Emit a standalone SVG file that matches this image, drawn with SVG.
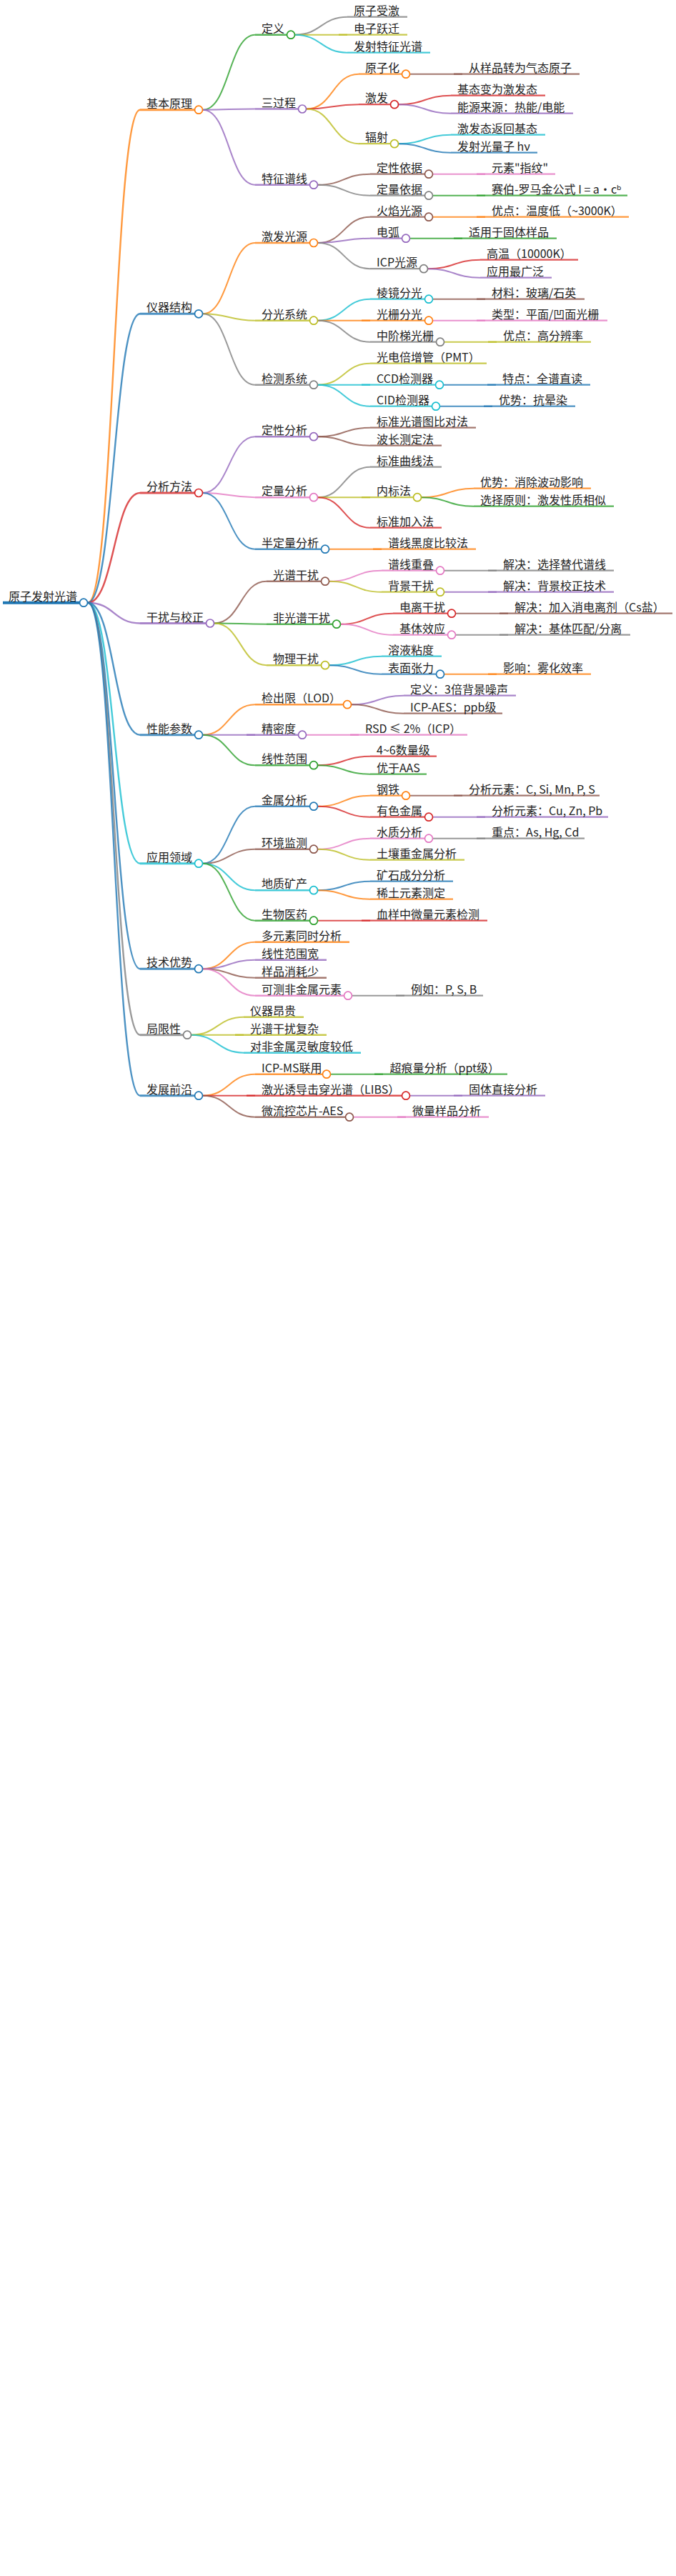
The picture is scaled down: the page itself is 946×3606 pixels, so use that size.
<svg xmlns="http://www.w3.org/2000/svg" width="946" height="3606" viewBox="0 0 946 3606">
<style>
text{font:16px "Noto Sans CJK SC","Noto Sans",sans-serif;fill:#222}
path{fill:none;stroke-opacity:.8}
circle{fill:#fff;stroke-width:1.7}
#connectors path{stroke-width:2}
#connectors .w{stroke-width:2.4}
.d0{stroke-width:4;stroke-opacity:1}
.d1{stroke-width:3}
.d2{stroke-width:2.4}
.d3{stroke-width:2.2}
.b{stroke:#1f77b4}.o{stroke:#ff7f0e}.g{stroke:#2ca02c}.r{stroke:#d62728}.p{stroke:#9467bd}
.n{stroke:#8c564b}.k{stroke:#e377c2}.a{stroke:#7f7f7f}.y{stroke:#bcbd22}.c{stroke:#17becf}
</style>
<g id="connectors">
<path class="w o" d="M123 843.7C159.5 843.7 159.5 153.7 196 153.7"/>
<path class="w b" d="M123 843.7C159.5 843.7 159.5 439.3 196 439.3"/>
<path class="w r" d="M123 843.7C159.5 843.7 159.5 690 196 690"/>
<path class="w p" d="M123 843.7C159.5 843.7 159.5 872.5 196 872.5"/>
<path class="w b" d="M123 843.7C159.5 843.7 159.5 1028.7 196 1028.7"/>
<path class="w c" d="M123 843.7C159.5 843.7 159.5 1208.7 196 1208.7"/>
<path class="w b" d="M123 843.7C159.5 843.7 159.5 1356.2 196 1356.2"/>
<path class="w a" d="M123 843.7C159.5 843.7 159.5 1448.7 196 1448.7"/>
<path class="w b" d="M123 843.7C159.5 843.7 159.5 1533.7 196 1533.7"/>
<path class="g" d="M284 153.7C320.5 153.7 320.5 48.7 357 48.7"/>
<path class="p" d="M284 153.7C320.5 153.7 320.5 152.5 357 152.5"/>
<path class="p" d="M284 153.7C320.5 153.7 320.5 258.7 357 258.7"/>
<path class="a" d="M413 48.7C449.5 48.7 449.5 23.7 486 23.7"/>
<path class="y" d="M413 48.7H486"/>
<path class="c" d="M413 48.7C449.5 48.7 449.5 73.7 486 73.7"/>
<path class="o" d="M429 152.5C465.5 152.5 465.5 103.7 502 103.7"/>
<path class="r" d="M429 152.5C465.5 152.5 465.5 146.2 502 146.2"/>
<path class="y" d="M429 152.5C465.5 152.5 465.5 201.2 502 201.2"/>
<path class="n" d="M574 103.7H647"/>
<path class="r" d="M558 146.2C594.5 146.2 594.5 133.7 631 133.7"/>
<path class="p" d="M558 146.2C594.5 146.2 594.5 158.7 631 158.7"/>
<path class="c" d="M558 201.2C594.5 201.2 594.5 188.7 631 188.7"/>
<path class="b" d="M558 201.2C594.5 201.2 594.5 213.7 631 213.7"/>
<path class="n" d="M445 258.7C481.5 258.7 481.5 243.7 518 243.7"/>
<path class="a" d="M445 258.7C481.5 258.7 481.5 273.7 518 273.7"/>
<path class="k" d="M606 243.7H679"/>
<path class="g" d="M606 273.7H679"/>
<path class="o" d="M284 439.3C320.5 439.3 320.5 340 357 340"/>
<path class="y" d="M284 439.3C320.5 439.3 320.5 448.7 357 448.7"/>
<path class="a" d="M284 439.3C320.5 439.3 320.5 538.7 357 538.7"/>
<path class="n" d="M445 340C481.5 340 481.5 303.7 518 303.7"/>
<path class="p" d="M445 340C481.5 340 481.5 333.7 518 333.7"/>
<path class="a" d="M445 340C481.5 340 481.5 376.2 518 376.2"/>
<path class="o" d="M606 303.7H679"/>
<path class="g" d="M574 333.7H647"/>
<path class="r" d="M599 376.2C635.5 376.2 635.5 363.7 672 363.7"/>
<path class="p" d="M599 376.2C635.5 376.2 635.5 388.7 672 388.7"/>
<path class="c" d="M445 448.7C481.5 448.7 481.5 418.7 518 418.7"/>
<path class="o" d="M445 448.7H518"/>
<path class="a" d="M445 448.7C481.5 448.7 481.5 478.7 518 478.7"/>
<path class="n" d="M606 418.7H679"/>
<path class="k" d="M606 448.7H679"/>
<path class="y" d="M622 478.7H695"/>
<path class="y" d="M445 538.7C481.5 538.7 481.5 508.7 518 508.7"/>
<path class="c" d="M445 538.7H518"/>
<path class="c" d="M445 538.7C481.5 538.7 481.5 568.7 518 568.7"/>
<path class="b" d="M621 538.7H694"/>
<path class="b" d="M616 568.7H689"/>
<path class="p" d="M284 690C320.5 690 320.5 611.2 357 611.2"/>
<path class="k" d="M284 690C320.5 690 320.5 696.2 357 696.2"/>
<path class="b" d="M284 690C320.5 690 320.5 768.7 357 768.7"/>
<path class="n" d="M445 611.2C481.5 611.2 481.5 598.7 518 598.7"/>
<path class="n" d="M445 611.2C481.5 611.2 481.5 623.7 518 623.7"/>
<path class="a" d="M445 696.2C481.5 696.2 481.5 653.7 518 653.7"/>
<path class="y" d="M445 696.2H518"/>
<path class="r" d="M445 696.2C481.5 696.2 481.5 738.7 518 738.7"/>
<path class="o" d="M590 696.2C626.5 696.2 626.5 683.7 663 683.7"/>
<path class="g" d="M590 696.2C626.5 696.2 626.5 708.7 663 708.7"/>
<path class="o" d="M461 768.7H534"/>
<path class="n" d="M300 872.5C336.5 872.5 336.5 813.7 373 813.7"/>
<path class="g" d="M300 872.5C336.5 872.5 336.5 873.7 373 873.7"/>
<path class="y" d="M300 872.5C336.5 872.5 336.5 931.2 373 931.2"/>
<path class="k" d="M461 813.7C497.5 813.7 497.5 798.7 534 798.7"/>
<path class="y" d="M461 813.7C497.5 813.7 497.5 828.7 534 828.7"/>
<path class="a" d="M622 798.7H695"/>
<path class="p" d="M622 828.7H695"/>
<path class="r" d="M477 873.7C513.5 873.7 513.5 858.7 550 858.7"/>
<path class="k" d="M477 873.7C513.5 873.7 513.5 888.7 550 888.7"/>
<path class="n" d="M638 858.7H711"/>
<path class="a" d="M638 888.7H711"/>
<path class="c" d="M461 931.2C497.5 931.2 497.5 918.7 534 918.7"/>
<path class="b" d="M461 931.2C497.5 931.2 497.5 943.7 534 943.7"/>
<path class="o" d="M622 943.7H695"/>
<path class="o" d="M284 1028.7C320.5 1028.7 320.5 986.2 357 986.2"/>
<path class="p" d="M284 1028.7H357"/>
<path class="g" d="M284 1028.7C320.5 1028.7 320.5 1071.2 357 1071.2"/>
<path class="p" d="M492 986.2C528.5 986.2 528.5 973.7 565 973.7"/>
<path class="n" d="M492 986.2C528.5 986.2 528.5 998.7 565 998.7"/>
<path class="k" d="M429 1028.7H502"/>
<path class="r" d="M445 1071.2C481.5 1071.2 481.5 1058.7 518 1058.7"/>
<path class="g" d="M445 1071.2C481.5 1071.2 481.5 1083.7 518 1083.7"/>
<path class="b" d="M284 1208.7C320.5 1208.7 320.5 1128.7 357 1128.7"/>
<path class="n" d="M284 1208.7C320.5 1208.7 320.5 1188.7 357 1188.7"/>
<path class="c" d="M284 1208.7C320.5 1208.7 320.5 1246.2 357 1246.2"/>
<path class="g" d="M284 1208.7C320.5 1208.7 320.5 1288.7 357 1288.7"/>
<path class="o" d="M445 1128.7C481.5 1128.7 481.5 1113.7 518 1113.7"/>
<path class="r" d="M445 1128.7C481.5 1128.7 481.5 1143.7 518 1143.7"/>
<path class="n" d="M574 1113.7H647"/>
<path class="p" d="M606 1143.7H679"/>
<path class="k" d="M445 1188.7C481.5 1188.7 481.5 1173.7 518 1173.7"/>
<path class="y" d="M445 1188.7C481.5 1188.7 481.5 1203.7 518 1203.7"/>
<path class="a" d="M606 1173.7H679"/>
<path class="b" d="M445 1246.2C481.5 1246.2 481.5 1233.7 518 1233.7"/>
<path class="o" d="M445 1246.2C481.5 1246.2 481.5 1258.7 518 1258.7"/>
<path class="r" d="M445 1288.7H518"/>
<path class="o" d="M284 1356.2C320.5 1356.2 320.5 1318.7 357 1318.7"/>
<path class="p" d="M284 1356.2C320.5 1356.2 320.5 1343.7 357 1343.7"/>
<path class="n" d="M284 1356.2C320.5 1356.2 320.5 1368.7 357 1368.7"/>
<path class="k" d="M284 1356.2C320.5 1356.2 320.5 1393.7 357 1393.7"/>
<path class="a" d="M493 1393.7H566"/>
<path class="y" d="M268 1448.7C304.5 1448.7 304.5 1423.7 341 1423.7"/>
<path class="y" d="M268 1448.7H341"/>
<path class="c" d="M268 1448.7C304.5 1448.7 304.5 1473.7 341 1473.7"/>
<path class="o" d="M284 1533.7C320.5 1533.7 320.5 1503.7 357 1503.7"/>
<path class="r" d="M284 1533.7H357"/>
<path class="n" d="M284 1533.7C320.5 1533.7 320.5 1563.7 357 1563.7"/>
<path class="g" d="M463 1503.7H536"/>
<path class="p" d="M574 1533.7H647"/>
<path class="k" d="M495 1563.7H568"/>
</g>
<g id="nodes">
<g id="root"><path class="d0 b" d="M4 843.7H117"/><circle class="b" cx="117" cy="843.7" r="5.5"/><text x="12" y="840.7">原子发射光谱</text></g>
<g id="n1"><path class="d1 o" d="M196 153.7H278"/><circle class="o" cx="278" cy="153.7" r="5.5"/><text x="205" y="150.7">基本原理</text></g>
<g id="n1-1"><path class="d2 g" d="M357 48.7H407"/><circle class="g" cx="407" cy="48.7" r="5.5"/><text x="366" y="45.7">定义</text></g>
<g id="n1-1-1"><path class="d3 a" d="M486 23.7H570"/><text x="495" y="20.7">原子受激</text></g>
<g id="n1-1-2"><path class="d3 y" d="M474 48.7H570"/><text x="495" y="45.7">电子跃迁</text></g>
<g id="n1-1-3"><path class="d3 c" d="M486 73.7H602"/><text x="495" y="70.7">发射特征光谱</text></g>
<g id="n1-2"><path class="d2 p" d="M357 152.5H423"/><circle class="p" cx="423" cy="152.5" r="5.5"/><text x="366" y="149.5">三过程</text></g>
<g id="n1-2-1"><path class="d3 o" d="M502 103.7H568"/><circle class="o" cx="568" cy="103.7" r="5.5"/><text x="511" y="100.7">原子化</text></g>
<g id="n1-2-1-1"><path class="d3 n" d="M635 103.7H811"/><text x="656" y="100.7">从样品转为气态原子</text></g>
<g id="n1-2-2"><path class="d3 r" d="M502 146.2H552"/><circle class="r" cx="552" cy="146.2" r="5.5"/><text x="511" y="143.2">激发</text></g>
<g id="n1-2-2-1"><path class="d3 r" d="M631 133.7H763"/><text x="640" y="130.7">基态变为激发态</text></g>
<g id="n1-2-2-2"><path class="d3 p" d="M631 158.7H802"/><text x="640" y="155.7">能源来源：热能/电能</text></g>
<g id="n1-2-3"><path class="d3 y" d="M502 201.2H552"/><circle class="y" cx="552" cy="201.2" r="5.5"/><text x="511" y="198.2">辐射</text></g>
<g id="n1-2-3-1"><path class="d3 c" d="M631 188.7H763"/><text x="640" y="185.7">激发态返回基态</text></g>
<g id="n1-2-3-2"><path class="d3 b" d="M631 213.7H752"/><text x="640" y="210.7">发射光量子 hν</text></g>
<g id="n1-3"><path class="d2 p" d="M357 258.7H439"/><circle class="p" cx="439" cy="258.7" r="5.5"/><text x="366" y="255.7">特征谱线</text></g>
<g id="n1-3-1"><path class="d3 n" d="M518 243.7H600"/><circle class="n" cx="600" cy="243.7" r="5.5"/><text x="527" y="240.7">定性依据</text></g>
<g id="n1-3-1-1"><path class="d3 k" d="M667 243.7H777"/><text x="688" y="240.7">元素"指纹"</text></g>
<g id="n1-3-2"><path class="d3 a" d="M518 273.7H600"/><circle class="a" cx="600" cy="273.7" r="5.5"/><text x="527" y="270.7">定量依据</text></g>
<g id="n1-3-2-1"><path class="d3 g" d="M667 273.7H878"/><text x="688" y="270.7">赛伯-罗马金公式 I = a·cᵇ</text></g>
<g id="n2"><path class="d1 b" d="M196 439.3H278"/><circle class="b" cx="278" cy="439.3" r="5.5"/><text x="205" y="436.3">仪器结构</text></g>
<g id="n2-1"><path class="d2 o" d="M357 340H439"/><circle class="o" cx="439" cy="340" r="5.5"/><text x="366" y="337">激发光源</text></g>
<g id="n2-1-1"><path class="d3 n" d="M518 303.7H600"/><circle class="n" cx="600" cy="303.7" r="5.5"/><text x="527" y="300.7">火焰光源</text></g>
<g id="n2-1-1-1"><path class="d3 o" d="M667 303.7H880"/><text x="688" y="300.7">优点：温度低（~3000K）</text></g>
<g id="n2-1-2"><path class="d3 p" d="M518 333.7H568"/><circle class="p" cx="568" cy="333.7" r="5.5"/><text x="527" y="330.7">电弧</text></g>
<g id="n2-1-2-1"><path class="d3 g" d="M635 333.7H779"/><text x="656" y="330.7">适用于固体样品</text></g>
<g id="n2-1-3"><path class="d3 a" d="M518 376.2H593"/><circle class="a" cx="593" cy="376.2" r="5.5"/><text x="527" y="373.2">ICP光源</text></g>
<g id="n2-1-3-1"><path class="d3 r" d="M672 363.7H809"/><text x="681" y="360.7">高温（10000K）</text></g>
<g id="n2-1-3-2"><path class="d3 p" d="M672 388.7H772"/><text x="681" y="385.7">应用最广泛</text></g>
<g id="n2-2"><path class="d2 y" d="M357 448.7H439"/><circle class="y" cx="439" cy="448.7" r="5.5"/><text x="366" y="445.7">分光系统</text></g>
<g id="n2-2-1"><path class="d3 c" d="M518 418.7H600"/><circle class="c" cx="600" cy="418.7" r="5.5"/><text x="527" y="415.7">棱镜分光</text></g>
<g id="n2-2-1-1"><path class="d3 n" d="M667 418.7H818"/><text x="688" y="415.7">材料：玻璃/石英</text></g>
<g id="n2-2-2"><path class="d3 o" d="M506 448.7H600"/><circle class="o" cx="600" cy="448.7" r="5.5"/><text x="527" y="445.7">光栅分光</text></g>
<g id="n2-2-2-1"><path class="d3 k" d="M667 448.7H850"/><text x="688" y="445.7">类型：平面/凹面光栅</text></g>
<g id="n2-2-3"><path class="d3 a" d="M518 478.7H616"/><circle class="a" cx="616" cy="478.7" r="5.5"/><text x="527" y="475.7">中阶梯光栅</text></g>
<g id="n2-2-3-1"><path class="d3 y" d="M683 478.7H827"/><text x="704" y="475.7">优点：高分辨率</text></g>
<g id="n2-3"><path class="d2 a" d="M357 538.7H439"/><circle class="a" cx="439" cy="538.7" r="5.5"/><text x="366" y="535.7">检测系统</text></g>
<g id="n2-3-1"><path class="d3 y" d="M518 508.7H681"/><text x="527" y="505.7">光电倍增管（PMT）</text></g>
<g id="n2-3-2"><path class="d3 c" d="M506 538.7H615"/><circle class="c" cx="615" cy="538.7" r="5.5"/><text x="527" y="535.7">CCD检测器</text></g>
<g id="n2-3-2-1"><path class="d3 b" d="M682 538.7H826"/><text x="703" y="535.7">特点：全谱直读</text></g>
<g id="n2-3-3"><path class="d3 c" d="M518 568.7H610"/><circle class="c" cx="610" cy="568.7" r="5.5"/><text x="527" y="565.7">CID检测器</text></g>
<g id="n2-3-3-1"><path class="d3 b" d="M677 568.7H805"/><text x="698" y="565.7">优势：抗晕染</text></g>
<g id="n3"><path class="d1 r" d="M196 690H278"/><circle class="r" cx="278" cy="690" r="5.5"/><text x="205" y="687">分析方法</text></g>
<g id="n3-1"><path class="d2 p" d="M357 611.2H439"/><circle class="p" cx="439" cy="611.2" r="5.5"/><text x="366" y="608.2">定性分析</text></g>
<g id="n3-1-1"><path class="d3 n" d="M518 598.7H666"/><text x="527" y="595.7">标准光谱图比对法</text></g>
<g id="n3-1-2"><path class="d3 n" d="M518 623.7H618"/><text x="527" y="620.7">波长测定法</text></g>
<g id="n3-2"><path class="d2 k" d="M357 696.2H439"/><circle class="k" cx="439" cy="696.2" r="5.5"/><text x="366" y="693.2">定量分析</text></g>
<g id="n3-2-1"><path class="d3 a" d="M518 653.7H618"/><text x="527" y="650.7">标准曲线法</text></g>
<g id="n3-2-2"><path class="d3 y" d="M506 696.2H584"/><circle class="y" cx="584" cy="696.2" r="5.5"/><text x="527" y="693.2">内标法</text></g>
<g id="n3-2-2-1"><path class="d3 o" d="M663 683.7H827"/><text x="672" y="680.7">优势：消除波动影响</text></g>
<g id="n3-2-2-2"><path class="d3 g" d="M663 708.7H859"/><text x="672" y="705.7">选择原则：激发性质相似</text></g>
<g id="n3-2-3"><path class="d3 r" d="M518 738.7H618"/><text x="527" y="735.7">标准加入法</text></g>
<g id="n3-3"><path class="d2 b" d="M357 768.7H455"/><circle class="b" cx="455" cy="768.7" r="5.5"/><text x="366" y="765.7">半定量分析</text></g>
<g id="n3-3-1"><path class="d3 o" d="M522 768.7H666"/><text x="543" y="765.7">谱线黑度比较法</text></g>
<g id="n4"><path class="d1 p" d="M196 872.5H294"/><circle class="p" cx="294" cy="872.5" r="5.5"/><text x="205" y="869.5">干扰与校正</text></g>
<g id="n4-1"><path class="d2 n" d="M373 813.7H455"/><circle class="n" cx="455" cy="813.7" r="5.5"/><text x="382" y="810.7">光谱干扰</text></g>
<g id="n4-1-1"><path class="d3 k" d="M534 798.7H616"/><circle class="k" cx="616" cy="798.7" r="5.5"/><text x="543" y="795.7">谱线重叠</text></g>
<g id="n4-1-1-1"><path class="d3 a" d="M683 798.7H859"/><text x="704" y="795.7">解决：选择替代谱线</text></g>
<g id="n4-1-2"><path class="d3 y" d="M534 828.7H616"/><circle class="y" cx="616" cy="828.7" r="5.5"/><text x="543" y="825.7">背景干扰</text></g>
<g id="n4-1-2-1"><path class="d3 p" d="M683 828.7H859"/><text x="704" y="825.7">解决：背景校正技术</text></g>
<g id="n4-2"><path class="d2 g" d="M373 873.7H471"/><circle class="g" cx="471" cy="873.7" r="5.5"/><text x="382" y="870.7">非光谱干扰</text></g>
<g id="n4-2-1"><path class="d3 r" d="M550 858.7H632"/><circle class="r" cx="632" cy="858.7" r="5.5"/><text x="559" y="855.7">电离干扰</text></g>
<g id="n4-2-1-1"><path class="d3 n" d="M699 858.7H941"/><text x="720" y="855.7">解决：加入消电离剂（Cs盐）</text></g>
<g id="n4-2-2"><path class="d3 k" d="M550 888.7H632"/><circle class="k" cx="632" cy="888.7" r="5.5"/><text x="559" y="885.7">基体效应</text></g>
<g id="n4-2-2-1"><path class="d3 a" d="M699 888.7H882"/><text x="720" y="885.7">解决：基体匹配/分离</text></g>
<g id="n4-3"><path class="d2 y" d="M373 931.2H455"/><circle class="y" cx="455" cy="931.2" r="5.5"/><text x="382" y="928.2">物理干扰</text></g>
<g id="n4-3-1"><path class="d3 c" d="M534 918.7H618"/><text x="543" y="915.7">溶液粘度</text></g>
<g id="n4-3-2"><path class="d3 b" d="M534 943.7H616"/><circle class="b" cx="616" cy="943.7" r="5.5"/><text x="543" y="940.7">表面张力</text></g>
<g id="n4-3-2-1"><path class="d3 o" d="M683 943.7H827"/><text x="704" y="940.7">影响：雾化效率</text></g>
<g id="n5"><path class="d1 b" d="M196 1028.7H278"/><circle class="b" cx="278" cy="1028.7" r="5.5"/><text x="205" y="1025.7">性能参数</text></g>
<g id="n5-1"><path class="d2 o" d="M357 986.2H486"/><circle class="o" cx="486" cy="986.2" r="5.5"/><text x="366" y="983.2">检出限（LOD）</text></g>
<g id="n5-1-1"><path class="d3 p" d="M565 973.7H722"/><text x="574" y="970.7">定义：3倍背景噪声</text></g>
<g id="n5-1-2"><path class="d3 n" d="M565 998.7H703"/><text x="574" y="995.7">ICP-AES：ppb级</text></g>
<g id="n5-2"><path class="d2 p" d="M345 1028.7H423"/><circle class="p" cx="423" cy="1028.7" r="5.5"/><text x="366" y="1025.7">精密度</text></g>
<g id="n5-2-1"><path class="d3 k" d="M490 1028.7H654"/><text x="511" y="1025.7">RSD ≤ 2%（ICP）</text></g>
<g id="n5-3"><path class="d2 g" d="M357 1071.2H439"/><circle class="g" cx="439" cy="1071.2" r="5.5"/><text x="366" y="1068.2">线性范围</text></g>
<g id="n5-3-1"><path class="d3 r" d="M518 1058.7H611"/><text x="527" y="1055.7">4~6数量级</text></g>
<g id="n5-3-2"><path class="d3 g" d="M518 1083.7H597"/><text x="527" y="1080.7">优于AAS</text></g>
<g id="n6"><path class="d1 c" d="M196 1208.7H278"/><circle class="c" cx="278" cy="1208.7" r="5.5"/><text x="205" y="1205.7">应用领域</text></g>
<g id="n6-1"><path class="d2 b" d="M357 1128.7H439"/><circle class="b" cx="439" cy="1128.7" r="5.5"/><text x="366" y="1125.7">金属分析</text></g>
<g id="n6-1-1"><path class="d3 o" d="M518 1113.7H568"/><circle class="o" cx="568" cy="1113.7" r="5.5"/><text x="527" y="1110.7">钢铁</text></g>
<g id="n6-1-1-1"><path class="d3 n" d="M635 1113.7H839"/><text x="656" y="1110.7">分析元素：C, Si, Mn, P, S</text></g>
<g id="n6-1-2"><path class="d3 r" d="M518 1143.7H600"/><circle class="r" cx="600" cy="1143.7" r="5.5"/><text x="527" y="1140.7">有色金属</text></g>
<g id="n6-1-2-1"><path class="d3 p" d="M667 1143.7H851"/><text x="688" y="1140.7">分析元素：Cu, Zn, Pb</text></g>
<g id="n6-2"><path class="d2 n" d="M357 1188.7H439"/><circle class="n" cx="439" cy="1188.7" r="5.5"/><text x="366" y="1185.7">环境监测</text></g>
<g id="n6-2-1"><path class="d3 k" d="M518 1173.7H600"/><circle class="k" cx="600" cy="1173.7" r="5.5"/><text x="527" y="1170.7">水质分析</text></g>
<g id="n6-2-1-1"><path class="d3 a" d="M667 1173.7H818"/><text x="688" y="1170.7">重点：As, Hg, Cd</text></g>
<g id="n6-2-2"><path class="d3 y" d="M518 1203.7H650"/><text x="527" y="1200.7">土壤重金属分析</text></g>
<g id="n6-3"><path class="d2 c" d="M357 1246.2H439"/><circle class="c" cx="439" cy="1246.2" r="5.5"/><text x="366" y="1243.2">地质矿产</text></g>
<g id="n6-3-1"><path class="d3 b" d="M518 1233.7H634"/><text x="527" y="1230.7">矿石成分分析</text></g>
<g id="n6-3-2"><path class="d3 o" d="M518 1258.7H634"/><text x="527" y="1255.7">稀土元素测定</text></g>
<g id="n6-4"><path class="d2 g" d="M357 1288.7H439"/><circle class="g" cx="439" cy="1288.7" r="5.5"/><text x="366" y="1285.7">生物医药</text></g>
<g id="n6-4-1"><path class="d3 r" d="M506 1288.7H682"/><text x="527" y="1285.7">血样中微量元素检测</text></g>
<g id="n7"><path class="d1 b" d="M196 1356.2H278"/><circle class="b" cx="278" cy="1356.2" r="5.5"/><text x="205" y="1353.2">技术优势</text></g>
<g id="n7-1"><path class="d2 o" d="M357 1318.7H489"/><text x="366" y="1315.7">多元素同时分析</text></g>
<g id="n7-2"><path class="d2 p" d="M357 1343.7H457"/><text x="366" y="1340.7">线性范围宽</text></g>
<g id="n7-3"><path class="d2 n" d="M357 1368.7H457"/><text x="366" y="1365.7">样品消耗少</text></g>
<g id="n7-4"><path class="d2 k" d="M357 1393.7H487"/><circle class="k" cx="487" cy="1393.7" r="5.5"/><text x="366" y="1390.7">可测非金属元素</text></g>
<g id="n7-4-1"><path class="d3 a" d="M554 1393.7H676"/><text x="575" y="1390.7">例如：P, S, B</text></g>
<g id="n8"><path class="d1 a" d="M196 1448.7H262"/><circle class="a" cx="262" cy="1448.7" r="5.5"/><text x="205" y="1445.7">局限性</text></g>
<g id="n8-1"><path class="d2 y" d="M341 1423.7H425"/><text x="350" y="1420.7">仪器昂贵</text></g>
<g id="n8-2"><path class="d2 y" d="M329 1448.7H457"/><text x="350" y="1445.7">光谱干扰复杂</text></g>
<g id="n8-3"><path class="d2 c" d="M341 1473.7H505"/><text x="350" y="1470.7">对非金属灵敏度较低</text></g>
<g id="n9"><path class="d1 b" d="M196 1533.7H278"/><circle class="b" cx="278" cy="1533.7" r="5.5"/><text x="205" y="1530.7">发展前沿</text></g>
<g id="n9-1"><path class="d2 o" d="M357 1503.7H457"/><circle class="o" cx="457" cy="1503.7" r="5.5"/><text x="366" y="1500.7">ICP-MS联用</text></g>
<g id="n9-1-1"><path class="d3 g" d="M524 1503.7H710"/><text x="545.5" y="1500.7">超痕量分析（ppt级）</text></g>
<g id="n9-2"><path class="d2 r" d="M345 1533.7H568"/><circle class="r" cx="568" cy="1533.7" r="5.5"/><text x="366" y="1530.7">激光诱导击穿光谱（LIBS）</text></g>
<g id="n9-2-1"><path class="d3 p" d="M635 1533.7H763"/><text x="656" y="1530.7">固体直接分析</text></g>
<g id="n9-3"><path class="d2 n" d="M357 1563.7H489"/><circle class="n" cx="489" cy="1563.7" r="5.5"/><text x="366" y="1560.7">微流控芯片-AES</text></g>
<g id="n9-3-1"><path class="d3 k" d="M556 1563.7H684"/><text x="577" y="1560.7">微量样品分析</text></g>
</g>
</svg>
